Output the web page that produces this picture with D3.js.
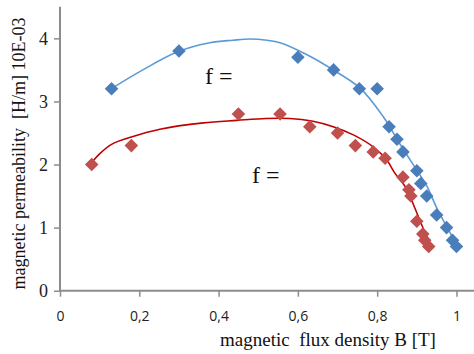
<!DOCTYPE html>
<html><head><meta charset="utf-8">
<script src="https://cdn.jsdelivr.net/npm/d3@7"></script>
<style>body{margin:0;background:#fff}svg{display:block}</style>
</head><body>
<svg id="c" width="474" height="354"></svg>
<script>
// measured data
const blueB = [0.13,0.30,0.60,0.69,0.755,0.80,0.83,0.85,0.865,0.90,0.91,0.925,0.95,0.975,0.99,1.0];
const blueMu = [3.2,3.8,3.7,3.5,3.2,3.2,2.6,2.4,2.2,1.9,1.7,1.5,1.2,1.0,0.8,0.7];
const redB = [0.08,0.18,0.45,0.555,0.63,0.70,0.745,0.79,0.82,0.865,0.88,0.885,0.90,0.915,0.92,0.93];
const redMu = [2.0,2.3,2.8,2.8,2.6,2.5,2.3,2.2,2.1,1.8,1.6,1.5,1.1,0.9,0.8,0.7];
// trend lines
const blueTrendB = [0.129,0.209,0.298,0.378,0.436,0.48,0.522,0.555,0.623,0.689,0.757,0.815,0.857,0.900,0.926,0.951,0.976,1.0];
const blueTrendMu = [3.20,3.50,3.79,3.93,3.97,3.99,3.97,3.93,3.74,3.50,3.21,2.76,2.33,1.91,1.65,1.30,1.01,0.73];
const redTrendB = [0.077,0.10,0.13,0.182,0.252,0.361,0.446,0.52,0.58,0.635,0.689,0.740,0.790,0.824,0.845,0.874,0.895,0.916,0.933];
const redTrendMu = [2.01,2.17,2.32,2.44,2.56,2.66,2.70,2.73,2.73,2.69,2.60,2.47,2.28,2.07,1.86,1.62,1.31,0.99,0.76];
const xTicks = [0,0.2,0.4,0.6,0.8,1];
const yTicks = [0,1,2,3,4];
const xTickLabels = ["0","0,2","0,4","0,6","0,8","1"];

const svg = d3.select("#c");
const x = d3.scaleLinear().domain([0,1.05]).range([60,476.3]);
const y = d3.scaleLinear().domain([0,4.5]).range([290.7,6.8]);

const axisCol = "#8c8c8c";
// axes
const xa = svg.append("g").attr("transform","translate(0,290.7)")
  .call(d3.axisBottom(x).tickValues(xTicks).tickSize(6).tickFormat((d,i)=>xTickLabels[i]));
xa.select(".domain").attr("stroke",axisCol).attr("stroke-width",2).attr("d","M60,0H476");
xa.selectAll(".tick line").attr("stroke",axisCol).attr("stroke-width",1.5);
xa.selectAll(".tick text").attr("fill","#222").attr("font-family","'Open Sans',sans-serif").attr("font-size",14).attr("dy","1.5em");

const ya = svg.append("g").attr("transform","translate(60,0)")
  .call(d3.axisLeft(y).tickValues(yTicks).tickSize(6).tickFormat(d3.format("d")));
ya.select(".domain").attr("stroke",axisCol).attr("stroke-width",2).attr("d","M0,291.7V6.8");
ya.selectAll(".tick line").attr("stroke",axisCol).attr("stroke-width",1.5);
ya.selectAll(".tick text").attr("fill","#222").attr("font-family","'Liberation Serif',serif").attr("font-size",18).attr("x",-12);

// trend lines
const line = d3.line().x(d=>x(d[0])).y(d=>y(d[1])).curve(d3.curveCatmullRom.alpha(0.5));
svg.append("path").datum(blueTrendB.map((b,i)=>[b,blueTrendMu[i]]))
  .attr("d",line).attr("fill","none").attr("stroke","#5b9bd5").attr("stroke-width",1.6);
svg.append("path").datum(redTrendB.map((b,i)=>[b,redTrendMu[i]]))
  .attr("d",line).attr("fill","none").attr("stroke","#c00000").attr("stroke-width",1.6);

// markers
const sym = d3.symbol().type(d3.symbolSquare).size(92);
function markers(bs,ms,col){
  svg.append("g").selectAll("path").data(bs.map((b,i)=>[b,ms[i]])).join("path")
    .attr("d",sym).attr("fill",col)
    .attr("transform",d=>`translate(${x(d[0])},${y(d[1])}) rotate(45)`);
}
markers(blueB,blueMu,"#4a7ebb");
markers(redB,redMu,"#c0504d");

// annotations
const serif = "'Liberation Serif','Times New Roman',serif";
svg.append("text").attr("x",205).attr("y",84).attr("font-family",serif).attr("font-size",24).attr("fill","#111").text("f =");
svg.append("text").attr("x",252).attr("y",183).attr("font-family",serif).attr("font-size",24).attr("fill","#111").text("f =");

// axis titles
svg.append("text").attr("x",328).attr("y",346).attr("text-anchor","middle")
  .attr("font-family",serif).attr("font-size",19).attr("fill","#111").attr("xml:space","preserve")
  .text("magnetic  flux density B [T]");
svg.append("text").attr("transform","translate(25,153.5) rotate(-90)").attr("text-anchor","middle")
  .attr("font-family",serif).attr("font-size",18).attr("fill","#111").attr("xml:space","preserve")
  .text("magnetic permeability  [H/m] 10E-03");
</script>
</body></html>
